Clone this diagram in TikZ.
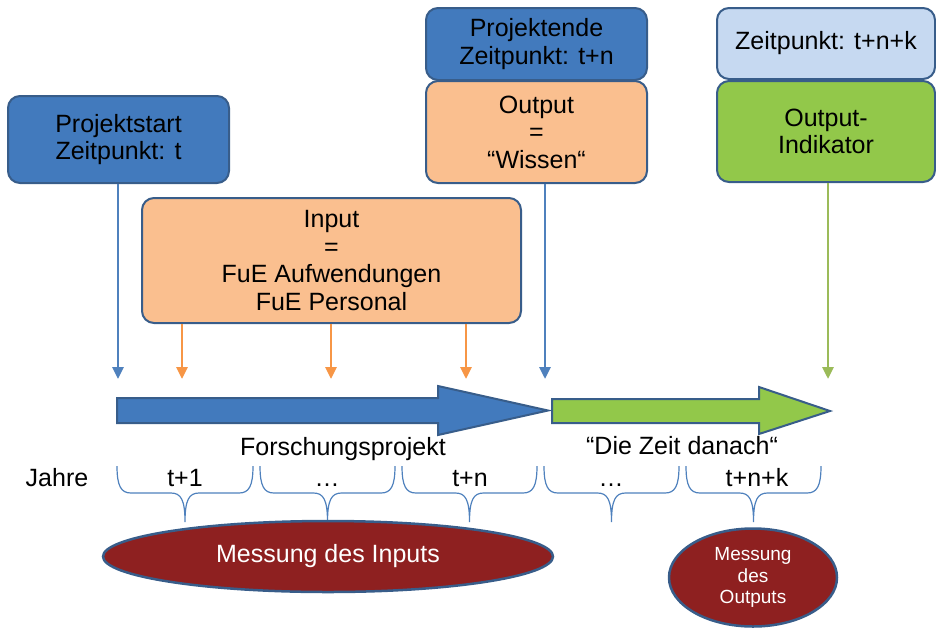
\documentclass[tikz,border=0pt]{standalone}
\usepackage{fontspec}
\setmainfont{Liberation Sans}
\usetikzlibrary{arrows.meta,shapes.geometric}
\definecolor{boxblue}{RGB}{66,122,189}
\definecolor{edgeblue}{RGB}{56,93,138}
\definecolor{boxorange}{RGB}{250,191,143}
\definecolor{boxgreen}{RGB}{146,200,74}
\definecolor{boxlight}{RGB}{198,217,241}
\definecolor{darkred}{RGB}{142,32,32}
\definecolor{arrorange}{RGB}{247,150,70}
\definecolor{arrgreen}{RGB}{155,187,89}
\definecolor{lineblue}{RGB}{79,129,189}
\begin{document}
\begin{tikzpicture}[x=1pt,y=-1pt,
  font=\fontsize{25}{27.5}\selectfont,
  box/.style={draw=edgeblue, line width=2pt, rounded corners=12pt, align=center, inner sep=0pt, text=black},
  tick/.style={line width=2.8pt, -{Triangle[length=12pt,width=11pt]}},
  bigarrow/.style={draw=edgeblue, line width=2pt, line join=miter},
  yearbr/.style={draw=lineblue, line width=1.2pt},
  lbl/.style={anchor=base, inner sep=0pt},
  measure/.style={ellipse, draw=edgeblue, line width=2.5pt, fill=darkred, text=white, inner sep=0pt, align=center}
]
\useasboundingbox (0,0) rectangle (936,627);

% boxes
\node[box, fill=boxblue, minimum width=221pt, minimum height=87pt] (start) at (118.5,139.5) {Projektstart\\Zeitpunkt: t};
\node[box, fill=boxblue, minimum width=221pt, minimum height=72pt] (ende) at (536.5,44) {Projektende\\Zeitpunkt: t+n};
\node[box, fill=boxorange, minimum width=221pt, minimum height=102pt] (output) at (536.5,132) {Output\\=\\“Wissen“};
\node[box, fill=boxlight, minimum width=218pt, minimum height=71pt] (zeit) at (826,43.5) {Zeitpunkt: t+n+k};
\node[box, fill=boxgreen, minimum width=218pt, minimum height=101pt] (indik) at (826,131.5) {Output-\\Indikator};
\node[box, fill=boxorange, minimum width=379pt, minimum height=125pt] (input) at (331.5,260.5) {Input\\=\\FuE Aufwendungen\\FuE Personal};

% arrow end points
\coordinate (a0) at (118,379);
\coordinate (o1) at (182,379);
\coordinate (o2) at (331,379);
\coordinate (o3) at (466,379);
\coordinate (a1) at (545,379);
\coordinate (a2) at (828,379);

\draw[tick, lineblue] (a0 |- start.south) -- (a0);
\draw[tick, arrorange] (o1 |- input.south) -- (o1);
\draw[tick, arrorange] (o2 |- input.south) -- (o2);
\draw[tick, arrorange] (o3 |- input.south) -- (o3);
\draw[tick, lineblue] (a1 |- output.south) -- (a1);
\draw[tick, arrgreen] (a2 |- indik.south) -- (a2);

% big timeline arrows
\draw[bigarrow, fill=boxblue] (117,398) -- (438,398) -- (438,386) -- (548,410.5) -- (438,435) -- (438,423) -- (117,423) -- cycle;
\draw[bigarrow, fill=boxgreen] (552,399) -- (759,399) -- (759,387) -- (830,411) -- (759,434) -- (759,423) -- (552,423) -- cycle;

\node[lbl] (forsch) at (343,455) {Forschungsprojekt};
\node[lbl] (danach) at (682,454) {“Die Zeit danach“};

% years
\node[lbl] (jahre) at (57,486) {Jahre};
\node[lbl] (y1) at (185,486) {t+1};
\node[lbl] (y2) at (327,486) {…};
\node[lbl] (y3) at (470,486) {t+n};
\node[lbl] (y4) at (611,486) {…};
\node[lbl] (y5) at (757,486) {t+n+k};

\foreach \a/\b in {117/253, 260/395, 402/537, 544/679, 686/821} {
  \pgfmathsetmacro\m{(\a+\b)/2}
  \draw[yearbr] (\a,466) .. controls (\a,486) and (\a+4,493) .. (\a+14,493)
    -- (\m-14,493) .. controls (\m-4,493) and (\m,500) .. (\m,522)
    .. controls (\m,500) and (\m+4,493) .. (\m+14,493)
    -- (\b-14,493) .. controls (\b-4,493) and (\b,486) .. (\b,466);
}

% measurement ellipses
\node[measure, minimum width=450pt, minimum height=71pt] (min) at (328,556.5) {\raisebox{-2pt}{Messung des Inputs}};
\node[measure, minimum width=168pt, minimum height=98pt, font=\fontsize{19}{21.5}\selectfont] (mout) at (753,577.5) {Messung\\des\\Outputs};
\end{tikzpicture}
\end{document}
